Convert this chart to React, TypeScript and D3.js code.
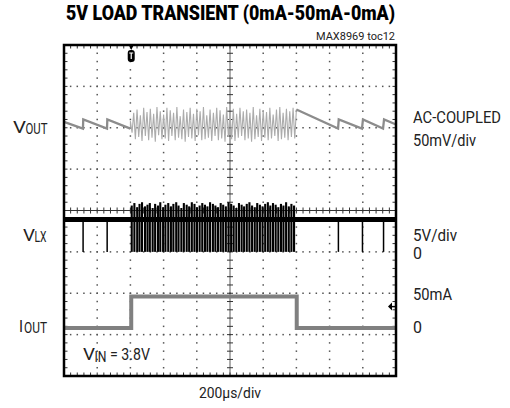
import * as d3 from 'd3';

const W = 510;
const H = 408;
const PLOT = { left: 64, right: 396, top: 45, bottom: 376 };

const FONT = "Roboto, 'Liberation Sans', Arial, sans-serif";

// scope settings
const TITLE = '5V LOAD TRANSIENT (0mA-50mA-0mA)';
const TOC = 'MAX8969 toc12';
const TIME_SPAN_US = [0, 2000]; // 200us/div x 10
const TIME_LABEL = '200µs/div';

// VOUT (AC coupled, mV) – ramps before and after the load pulse
const VOUT_PRE = [[0, 7], [114, -1], [116, 10], [259, -1], [261, 10], [400, -1]];
const VOUT_POST = [[1400, 22], [1651, -1], [1655, 10], [1795, -1], [1801, 10], [1922, -1], [1928, 10], [2000, 4]];
// VOUT ripple while loaded, one sample every 10us from 400us
const VOUT_BURST_STEP_US = 10;
const VOUT_BURST_MV = [
  8, -6, 18, -14, 22, -11, 15, -16, 24, -10, 19, -15, 23, -12, 17, -17, 25, -9, 20, -14,
  16, -13, 24, -16, 21, -10, 18, -15, 25, -12, 14, -14, 22, -17, 19, -11, 24, -13, 17, -16,
  23, -9, 20, -15, 25, -14, 15, -12, 22, -16, 18, -10, 24, -15, 21, -13, 16, -17, 25, -11,
  19, -14, 23, -16, 17, -12, 24, -10, 20, -15, 22, -13, 18, -17, 25, -14, 15, -11, 23, -16,
  21, -12, 19, -15, 24, -13, 16, -10, 22, -16, 25, -14, 18, -12, 23, -15, 20, -11, 24, -13,
];

// VLX (V)
const VLX_HIGH_V = 3.9;
const VLX_IDLE_PULSES_US = [115, 260, 1653, 1798, 1925];
const VLX_BURST_US = [
  408, 424, 441, 455, 470, 488, 503, 517, 534, 549, 566, 580, 597, 611, 628, 644, 659, 676,
  690, 707, 722, 739, 754, 770, 786, 801, 817, 833, 849, 864, 880, 897, 912, 928, 944, 959,
  975, 991, 1007, 1022, 1038, 1054, 1070, 1085, 1101, 1117, 1133, 1149, 1164, 1180, 1196,
  1212, 1228, 1243, 1259, 1275, 1291, 1307, 1322, 1338, 1354, 1370, 1386,
];
const VLX_BURST_PEAK_V = [
  5.6, 5.9, 5.4, 5.8, 6.0, 5.5, 5.7, 5.9, 5.3, 5.8, 5.6, 6.0, 5.4, 5.7, 5.9, 5.5, 5.8, 6.0,
  5.6, 5.3, 5.9, 5.7, 5.5, 6.0, 5.8, 5.4, 5.6, 5.9, 5.7, 5.5, 6.0, 5.8, 5.6, 5.4, 5.9, 5.7,
  5.5, 6.0, 5.8, 5.6, 5.3, 5.9, 5.7, 5.5, 5.8, 6.0, 5.6, 5.4, 5.9, 5.7, 5.5, 5.8, 6.0, 5.6,
  5.9, 5.7, 5.4, 5.8, 5.6, 6.0, 5.5, 5.8, 5.6,
];

// IOUT (mA)
const IOUT_MA = [[0, 0], [405, 0], [405, 50], [1402, 50], [1402, 0], [2000, 0]];

const RIGHT_LABELS = [
  { text: 'AC-COUPLED', y: 123, len: 88 },
  { text: '50mV/div', y: 146, len: 63 },
  { text: '5V/div', y: 241, len: 44 },
  { text: '0', y: 259, len: 9 },
  { text: '50mA', y: 300, len: 39 },
  { text: '0', y: 333, len: 9 },
];

// left channel names: main letter, subscript, positions
const LEFT_LABELS = [
  { main: 'V', sub: 'OUT', y: 133, x0: 13, w0: 13, x1: 25.5, w1: 22 },
  { main: 'V', sub: 'LX', y: 241, x0: 23, w0: 12, x1: 34.5, w1: 12 },
  { main: 'I', sub: 'OUT', y: 332, x0: 19, w0: 4, x1: 24, w1: 23 },
];

const txt = (len: number) => ({ textLength: len, lengthAdjust: 'spacingAndGlyphs' as const });

export default function App() {
  const xDiv = d3.scaleLinear().domain([0, 10]).range([PLOT.left, PLOT.right]);
  const yDiv = d3.scaleLinear().domain([4, -4]).range([PLOT.top, PLOT.bottom]);
  const x = d3.scaleLinear().domain(TIME_SPAN_US).range([PLOT.left, PLOT.right]);
  const yVout = d3.scaleLinear().domain([0, 50]).range([yDiv(2), yDiv(3)]);
  const yVlx = d3.scaleLinear().domain([0, 5]).range([yDiv(-1), yDiv(0)]);
  const yIout = d3.scaleLinear().domain([0, 50]).range([yDiv(-2.84), yDiv(-2.08)]);

  const line = d3.line<number[]>().x((d) => x(d[0])).y((d) => d[1]);

  const burstPts = VOUT_BURST_MV.map((v, i) => [400 + i * VOUT_BURST_STEP_US, v]);
  const voutPre = line(VOUT_PRE.map((d) => [d[0], yVout(d[1])]));
  const voutPost = line(VOUT_POST.map((d) => [d[0], yVout(d[1])]));
  const voutBurst = line([[400, yVout(-1)], ...burstPts.map((d) => [d[0], yVout(d[1])]), [1400, yVout(22)]]);
  const ioutPath = line(IOUT_MA.map((d) => [d[0], yIout(d[1])]));

  // graticule
  const minorX = d3.range(0, 10.001, 0.2);
  const minorY = d3.range(-4, 4.001, 0.2);
  const dots: JSX.Element[] = [];
  [1, 2, 3, 4, 6, 7, 8, 9].forEach((i) => {
    minorY.slice(1, -1).forEach((v, k) => {
      dots.push(<rect key={`v${i}-${k}`} x={xDiv(i) - 0.75} y={yDiv(v) - 0.75} width={1.5} height={1.5} fill="#555" />);
    });
  });
  [-3, -2, -1, 1, 2, 3].forEach((j) => {
    minorX.slice(1, -1).forEach((v, k) => {
      dots.push(<rect key={`h${j}-${k}`} x={xDiv(v) - 0.75} y={yDiv(j) - 0.75} width={1.5} height={1.5} fill="#555" />);
    });
  });
  const ticks: JSX.Element[] = [];
  minorX.forEach((v, k) => {
    const px = xDiv(v);
    ticks.push(<line key={`tt${k}`} x1={px} x2={px} y1={PLOT.top} y2={PLOT.top + 3.5} />);
    ticks.push(<line key={`tb${k}`} x1={px} x2={px} y1={PLOT.bottom} y2={PLOT.bottom - 3.5} />);
    ticks.push(<line key={`tc${k}`} x1={px} x2={px} y1={yDiv(0) - 3} y2={yDiv(0) + 3} />);
  });
  minorY.forEach((v, k) => {
    const py = yDiv(v);
    ticks.push(<line key={`tl${k}`} x1={PLOT.left} x2={PLOT.left + 3.5} y1={py} y2={py} />);
    ticks.push(<line key={`tr${k}`} x1={PLOT.right} x2={PLOT.right - 3.5} y1={py} y2={py} />);
    ticks.push(<line key={`tm${k}`} x1={xDiv(5) - 3} x2={xDiv(5) + 3} y1={py} y2={py} />);
  });

  const trigX = x(405);

  return (
    <svg width={W} height={H} style={{ position: 'absolute', left: 0, top: 0, background: '#fff' }} fontFamily={FONT}>
      <text x={230.5} y={20} textAnchor="middle" fontSize={20} fontWeight={900} {...txt(329)}>
        {TITLE}
      </text>
      <text x={395} y={39.5} textAnchor="end" fontSize={10} fill="#222" {...txt(79)}>
        {TOC}
      </text>

      {/* graticule */}
      <g>{dots}</g>
      <g stroke="#333" strokeWidth={1}>
        {ticks}
        <line x1={PLOT.left} x2={PLOT.right} y1={yDiv(0)} y2={yDiv(0)} />
        <line x1={xDiv(5)} x2={xDiv(5)} y1={PLOT.top} y2={PLOT.bottom} strokeWidth={0.8} />
      </g>

      {/* VOUT */}
      <path d={voutBurst ?? ''} fill="none" stroke="#acacac" strokeWidth={1.1} />
      <path d={voutPre ?? ''} fill="none" stroke="#8c8c8c" strokeWidth={2.3} />
      <path d={voutPost ?? ''} fill="none" stroke="#8c8c8c" strokeWidth={2.3} />

      {/* VLX */}
      <g stroke="#000">
        <line x1={PLOT.left} x2={PLOT.right} y1={yVlx(VLX_HIGH_V)} y2={yVlx(VLX_HIGH_V)} strokeWidth={5} />
        {VLX_IDLE_PULSES_US.map((t, i) => (
          <line key={`p${i}`} x1={x(t)} x2={x(t)} y1={yVlx(VLX_HIGH_V)} y2={yVlx(0)} strokeWidth={1.5} />
        ))}
        {VLX_BURST_US.map((t, i) => (
          <line key={`b${i}`} x1={x(t)} x2={x(t)} y1={yVlx(VLX_BURST_PEAK_V[i])} y2={yVlx(0)} strokeWidth={2.1} />
        ))}
      </g>

      {/* IOUT */}
      <path d={ioutPath ?? ''} fill="none" stroke="#808080" strokeWidth={4} strokeLinejoin="miter" />
      <line x1={x(405)} x2={x(405)} y1={yIout(0)} y2={yIout(50)} stroke="#808080" strokeWidth={1.2} />
      <line x1={x(1402)} x2={x(1402)} y1={yIout(0)} y2={yIout(50)} stroke="#808080" strokeWidth={1.2} />

      {/* markers */}
      <path d={`M${trigX - 2.5},${PLOT.top} L${trigX + 2.5},${PLOT.top} L${trigX},${PLOT.top + 5} Z`} fill="#000" />
      <rect x={trigX - 3.5} y={PLOT.top + 5} width={7} height={12} rx={3} fill="#000" />
      <path d={`M${trigX - 2},${PLOT.top + 8} H${trigX + 2} M${trigX},${PLOT.top + 8} V${PLOT.top + 14}`} stroke="#fff" strokeWidth={1.2} />
      <path d={`M${PLOT.right - 8},${yIout(34)} L${PLOT.right - 4},${yIout(34) - 4} L${PLOT.right - 4},${yIout(34) + 4} Z`} fill="#000" />
      <line x1={PLOT.right - 4} x2={PLOT.right} y1={yIout(34)} y2={yIout(34)} stroke="#000" strokeWidth={1.5} />

      {/* frame */}
      <rect x={PLOT.left} y={PLOT.top} width={PLOT.right - PLOT.left} height={PLOT.bottom - PLOT.top} fill="none" stroke="#000" strokeWidth={2.5} />

      {/* labels */}
      <g fill="#222">
        {LEFT_LABELS.map((l, i) => (
          <g key={`l${i}`}>
            <text x={l.x0} y={l.y} fontSize={17} {...txt(l.w0)}>{l.main}</text>
            <text x={l.x1} y={l.y + 1} fontSize={14} {...txt(l.w1)}>{l.sub}</text>
          </g>
        ))}
        {RIGHT_LABELS.map((l, i) => (
          <text key={`r${i}`} x={413} y={l.y} fontSize={16} {...txt(l.len)}>
            {l.text}
          </text>
        ))}
        <text x={83} y={360} fontSize={17} {...txt(12)}>V</text>
        <text x={94.5} y={362} fontSize={14} {...txt(12)}>IN</text>
        <text x={110} y={360} fontSize={17} {...txt(40)}>= 3.8V</text>
        <text x={230} y={398} textAnchor="middle" fontSize={15} {...txt(62)}>
          {TIME_LABEL}
        </text>
      </g>
    </svg>
  );
}
